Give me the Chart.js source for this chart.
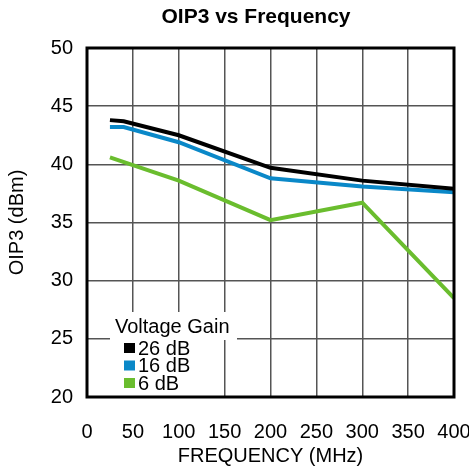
<!DOCTYPE html>
<html>
<head>
<meta charset="utf-8">
<script src="https://cdn.jsdelivr.net/npm/chart.js@4/dist/chart.umd.min.js"></script>
<style>
  html, body { margin: 0; padding: 0; background: #fff; }
  #oip3 { display: block; }
</style>
</head>
<body>
<canvas id="oip3" width="469" height="472"></canvas>
<script>
// frequency (MHz) and OIP3 (dBm)
const freq26 = [25, 40, 100, 200, 300, 400];
const oip26 = [43.8, 43.7, 42.5, 39.7, 38.6, 37.9];
const freq16 = [25, 40, 100, 200, 300, 400];
const oip16 = [43.2, 43.2, 41.9, 38.8, 38.1, 37.6];
const freq6 = [25, 100, 200, 300, 400];
const oip6 = [40.6, 38.6, 35.2, 36.7, 28.5];
const gainLabels = ['26 dB', '16 dB', '6 dB'];
const xTicks = [0, 50, 100, 150, 200, 250, 300, 350, 400];
const yTicks = [20, 25, 30, 35, 40, 45, 50];

const FONT = 'Liberation Sans, Arial, sans-serif';

function pts(xs, ys) {
    return xs.map((x, i) => ({ x: x, y: ys[i] }));
}

// frame, title and the boxed legend in the lower left
const extras = {
    id: 'extras',
    beforeDatasetsDraw(chart) {
        const a = chart.chartArea;
        const c = chart.ctx;
        c.save();
        c.fillStyle = '#fff';
        c.fillRect(110, 312, 127, 28);
        c.fillRect(110, 338, 110, a.bottom - 338 - 1);
        c.restore();
    },
    afterDatasetsDraw(chart) {
        const a = chart.chartArea;
        const c = chart.ctx;
        c.save();
        c.strokeStyle = '#000';
        c.lineWidth = 3;
        c.strokeRect(a.left, a.top, a.right - a.left, a.bottom - a.top);

        c.fillStyle = '#000';
        c.font = 'bold 21px ' + FONT;
        c.textAlign = 'center';
        c.textBaseline = 'middle';
        c.fillText('OIP3 vs Frequency', 256, 17);

        c.font = '20px ' + FONT;
        c.textAlign = 'left';
        c.fillText('Voltage Gain', 115, 327);
        chart.data.datasets.forEach((ds, i) => {
            const y = 348 + i * 17.5;
            c.fillStyle = ds.borderColor;
            c.fillRect(124, y - 5, 11, 10);
            c.fillStyle = '#000';
            c.fillText(ds.label, 138, y + 1);
        });
        c.restore();
    }
};

const ctx = document.getElementById('oip3').getContext('2d');
const oipChart = new Chart(ctx, {
    type: 'line',
    data: {
        datasets: [{
            label: gainLabels[0],
            data: pts(freq26, oip26),
            borderColor: '#000000',
            borderWidth: 4,
            pointRadius: 0,
            tension: 0
        }, {
            label: gainLabels[1],
            data: pts(freq16, oip16),
            borderColor: '#0a88c8',
            borderWidth: 4,
            pointRadius: 0,
            tension: 0
        }, {
            label: gainLabels[2],
            data: pts(freq6, oip6),
            borderColor: '#6abd2e',
            borderWidth: 4,
            pointRadius: 0,
            tension: 0
        }]
    },
    options: {
        responsive: false,
        animation: false,
        devicePixelRatio: 1,
        layout: { padding: { top: 48, right: 15, left: 0, bottom: 0 } },
        plugins: {
            legend: { display: false },
            tooltip: { enabled: false }
        },
        scales: {
            x: {
                type: 'linear',
                min: 0,
                max: 400,
                afterFit(scale) {
                    scale.height = 75;
                    scale.paddingLeft = 0;
                    scale.paddingRight = 0;
                },
                afterBuildTicks(scale) { scale.ticks = xTicks.map(v => ({ value: v })); },
                grid: { color: '#555', lineWidth: 1.5, drawTicks: false },
                border: { display: false },
                ticks: {
                    color: '#000',
                    font: { family: FONT, size: 20 },
                    padding: 23,
                    maxRotation: 0
                },
                title: {
                    display: true,
                    text: 'FREQUENCY (MHz)',
                    color: '#000',
                    font: { family: FONT, size: 20 },
                    padding: { top: 1 }
                }
            },
            y: {
                type: 'linear',
                min: 20,
                max: 50,
                afterFit(scale) {
                    scale.width = 87;
                    scale.paddingTop = 0;
                    scale.paddingBottom = 0;
                },
                afterBuildTicks(scale) { scale.ticks = yTicks.map(v => ({ value: v })); },
                grid: { color: '#555', lineWidth: 1.5, drawTicks: false },
                border: { display: false },
                ticks: {
                    color: '#000',
                    font: { family: FONT, size: 20 },
                    padding: 14
                },
                title: {
                    display: true,
                    text: 'OIP3 (dBm)',
                    color: '#000',
                    font: { family: FONT, size: 20 },
                    padding: { top: 5, bottom: 0 }
                }
            }
        }
    },
    plugins: [extras]
});
</script>
</body>
</html>
